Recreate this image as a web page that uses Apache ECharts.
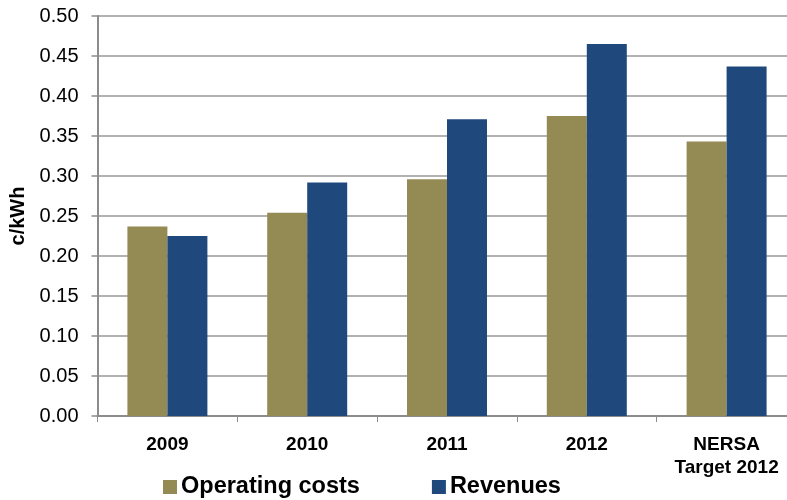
<!DOCTYPE html>
<html>
<head>
<meta charset="utf-8">
<script src="https://cdn.jsdelivr.net/npm/echarts@6/dist/echarts.min.js"></script>
<style>
  html, body { margin: 0; padding: 0; background: #fff; overflow: hidden; }
  #chart { width: 810px; height: 500px; }
</style>
</head>
<body>
<div id="chart"></div>
<script>
// Unit cost vs revenue per kWh
const categories = ['2009', '2010', '2011', '2012', 'NERSA\nTarget 2012'];
const operatingCosts = [0.237, 0.254, 0.296, 0.375, 0.343];
const revenues = [0.225, 0.292, 0.371, 0.465, 0.437];
const yTicks = { min: 0, max: 0.5, interval: 0.05 };

const FONT = '"Liberation Sans", Arial, sans-serif';
const chart = echarts.init(document.getElementById('chart'));

chart.setOption({
  animation: false,
  textStyle: { fontFamily: FONT },
  grid: { left: 97.5, top: 16, width: 699, height: 400, containLabel: false },
  legend: {
    top: 470,
    left: 158,
    itemWidth: 14,
    itemHeight: 14,
    itemGap: 72,
    icon: 'rect',
    textStyle: { fontFamily: FONT, fontSize: 23.5, fontWeight: 'bold', color: '#000', padding: [0, 0, 0, -1] },
    data: ['Operating costs', 'Revenues']
  },
  xAxis: {
    type: 'category',
    data: categories,
    axisLine: { lineStyle: { color: '#8c8c8c', width: 2 } },
    axisTick: { show: true, length: 6, lineStyle: { color: '#8c8c8c', width: 1 } },
    axisLabel: {
      fontFamily: FONT, fontSize: 19, fontWeight: 'bold', color: '#000',
      margin: 17, lineHeight: 23
    }
  },
  yAxis: {
    type: 'value',
    min: yTicks.min,
    max: yTicks.max,
    interval: yTicks.interval,
    name: 'c/kWh',
    nameLocation: 'middle',
    nameGap: 69,
    nameRotate: 90,
    nameTextStyle: { fontFamily: FONT, fontSize: 20, fontWeight: 'bold', color: '#000' },
    axisLine: { show: true, lineStyle: { color: '#8c8c8c', width: 2 } },
    axisTick: { show: true, length: 6, lineStyle: { color: '#8c8c8c', width: 1.5 } },
    axisLabel: {
      fontFamily: FONT, fontSize: 20, color: '#000', margin: 19,
      formatter: v => v.toFixed(2)
    },
    splitLine: { lineStyle: { color: '#999999', width: 1.5 } }
  },
  series: [
    {
      name: 'Operating costs',
      type: 'bar',
      data: operatingCosts,
      barWidth: 40,
      barGap: '0%',
      itemStyle: { color: '#948A54' }
    },
    {
      name: 'Revenues',
      type: 'bar',
      data: revenues,
      barWidth: 40,
      itemStyle: { color: '#1F497D' }
    }
  ]
});
</script>
</body>
</html>
